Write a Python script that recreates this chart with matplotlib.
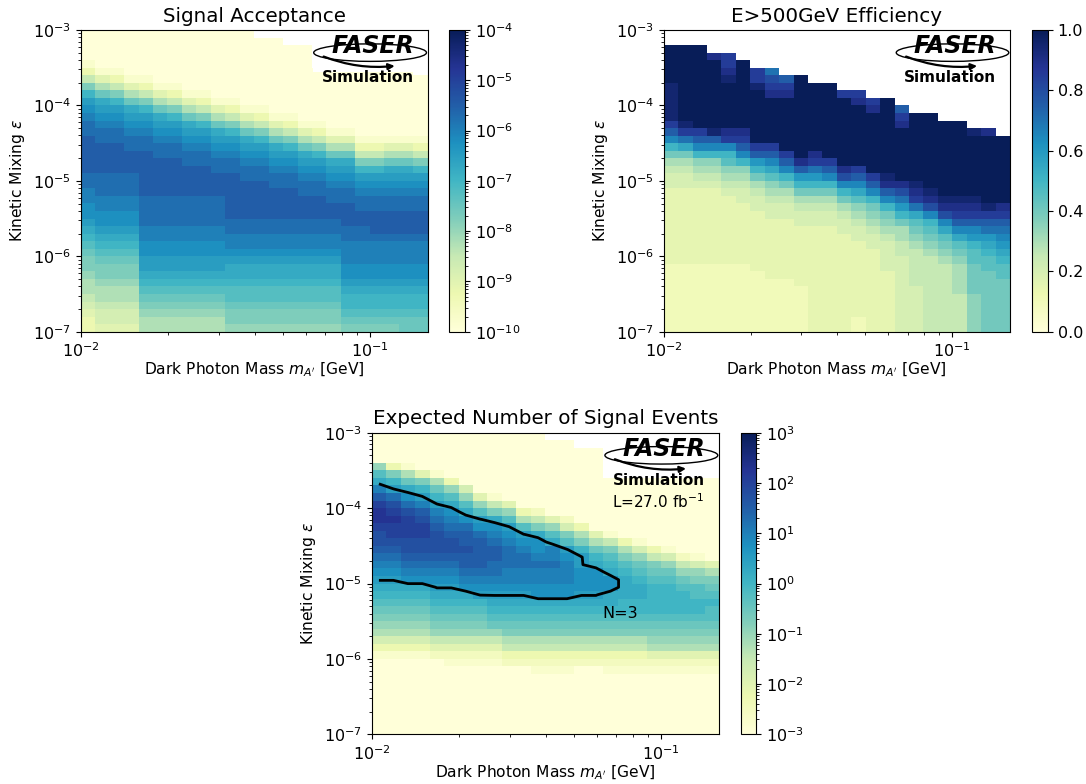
import numpy as np
import matplotlib
matplotlib.use("Agg")
import matplotlib.pyplot as plt
from matplotlib.colors import LogNorm, Normalize
from matplotlib.patches import Rectangle, Ellipse

plt.rcParams["font.family"] = ["DejaVu Sans"]

# ---------------- binning of the scan ----------------
N_MASS_BINS = 24            # log10(m) from -2.0 to -0.8 in 0.05 steps
N_EPS_BINS = 40             # log10(eps) from -7 to -3 in 0.1 steps
mass_edges = np.logspace(-2.0, -0.8, N_MASS_BINS + 1)
eps_edges = np.logspace(-7.0, -3.0, N_EPS_BINS + 1)

# ---------------- data ----------------
# One string per mass column (left -> right); each character is one epsilon
# row from the top (eps = 1e-3) to the bottom (eps = 1e-7).
# Character = base-36 level k, '.' = empty bin.
#   acceptance       = 10**(-10 + 0.25*k)
#   efficiency       = 0.05*k
#   expected events  = 10**(-3 + 0.25*k)
acceptance_cols = [
    "0000" "1369cefghh" "iiiii" "hhggffedcba" "9987765433",
    "00000" "147adefghh" "iiii" "hhhggffedcba998776554",
    "00000" "1369cefghh" "iiii" "hhhggffedcba998776554",
    "000000" "147adefghh" "iii" "hhhggffedcba998776554",
    "000000" "1369cefghh" "iii" "iiihhhhggffeedcba9877",
    "0000000" "147adefghh" "ii" "iiihhhhggffeedcba9877",
    "0000000" "1369cefghh" "ii" "iiihhhhggffeedcba9877",
    "00000000" "147adefghh" "i" "iiihhhhggffeedcba9877",
    "00000000" "1369cefghh" "i" "iiihhhhggffeedcba9877",
    "000000000" "147adefghh" "iiihhhhggffeedcba9877",
    "000000000" "1369cefghh" "iiiiiihhggfeddcbba998",
    "0000000000" "147adefghh" "iiiiihhggfeddcbba998",
    "." "000000000" "1369cefghh" "iiiiihhggfeddcbba998",
    "." "0000000000" "147adefghh" "iiiihhggfeddcbba998",
    ".." "000000000" "1369cefghh" "iiiihhggfeddcbba998",
    ".." "0000000000" "147adefghh" "iiihhggfeddcbba998",
    "....." "0000000" "1369cefghh" "iiihhggfeddcbba998",
    "....." "00000000" "147adefghh" "iihhggfeddcbba998",
    "....." "00000000" "147adefghh" "iii" "hhgggffedccba9",
    "....." "000000000" "1369cefghh" "ii" "hhgggffedccba9",
    "....." "000000000" "1369cefghh" "ii" "ihgggffedccba9",
    "....." "000000000" "147adefghh" "iii" "hgggffedccba9",
    "....." "000000000" "147adefghh" "iii" "hgggffedccbaa",
    "......" "00000000" "1369cefghh" "iii" "hgggffedccbaa",
]

efficiency_cols = [
    ".." "kkkkk" "jjjjj" "hfda8654" "4" "3333333333" "222222222",
    ".." "kkkkkkkkkk" "jheb8654" "4" "3333333333" "222222222",
    ".." "kkkkkkkkkkk" "hfda765" "4" "3333333333" "222222222",
    "..." "ikkkkkkkkkjfda7654" "3333333333" "222222222",
    "..." "hhij" "kkkkkk" "ihda976543" "33333333" "222222" "222",
    "...." "kkkkkkkkk" "ihfda76544" "33333333" "222222" "222",
    "....." "hhj" "kkkkkkk" "hfca86544" "33333333" "22222222",
    "....." "eghi" "kkkkkk" "hfdb976544" "33333333" "2222222",
    "......" "fhi" "kkkkkkk" "hfda86544" "33333333" "2222222",
    "......" "kkkkkkkkkkk" "ifca86544" "33333333" "222222",
    "......." "kkkkkkkkk" "iheca86544" "3333333333" "3333",
    "......." "kkkkkkkkkk" "hfda86544" "3333333333" "3333",
    "........" "h" "kkkkkkkkk" "igda86544" "3333333333" "333",
    "........" "hi" "kkkkkkkk" "hfdb976544" "3333333333" "22",
    "........." "hi" "kkkkkkkk" "hfda876544" "3333333333" "3",
    "........." "kkkkkkkkkk" "jifda87654" "444" "33333333",
    ".........." "fhi" "kkkkkkk" "igeca86655" "4444444444",
    "..........." "kkkkkkkkk" "jiheb98765" "5555" "444444",
    "..........." "kkkkkkkkkk" "jigda9876" "5555555555",
    "............" "kkkkkkkkkk" "jigdb9876" "555555555",
    "............" "kkkkkkkkkk" "jihfdb98" "7" "6666" "55555",
    "............." "j" "kkkkkkkk" "jihfdca" "99" "8888" "77777",
    "............." "i" "kkkkkkkkk" "jhfecba99" "88888888",
    ".............." "kkkkkkkkk" "ihfedcba99" "8888888",
]

events_cols = [
    "0000" "8bdgikllkjjihgfedcba987531" "0000000000",
    "0000" "39cehjklkkjihgfedcba987531" "0000000000",
    "0000" "17adfhjkkkjjihgfdcba987531" "0000000000",
    "0000" "049cegijkkjjihgfdcba987531" "0000000000",
    "0000" "017aceghijjjihgfedcba986420" "000000000",
    "0000" "0038bdfghijjihgfedcba986421" "000000000",
    "0000" "00058bdfhiijiihgfdcba986421" "000000000",
    "0000" "000048befhiiiihgfecba986421" "000000000",
    "0000" "0000169dfghiihhgfedcba86421" "000000000",
    "0000" "00000" "48befghhhggfedcba976320" "00000000",
    "0000" "000000" "37befghhggfedcba976320" "00000000",
    "0000" "000000" "269dffghggffdcba976321" "00000000",
    "." "0000000000" "48bdgghggffdcba976321" "00000000",
    "." "0000000000" "259befgggffdcba976321" "00000000",
    ".." "0000000000" "379ceefffedcba976320" "00000000",
    ".." "00000000000" "47acdfffedcba976320" "00000000",
    "......" "0000000" "169bcdffddcba976321" "00000000",
    "......" "00000000" "379bcdddccba976321" "00000000",
    "......" "00000000" "158abcddccba976321" "00000000",
    "......" "000000000" "369abccccba987421" "00000000",
    "......" "000000000" "158abccccba987421" "00000000",
    "......" "0000000000" "268abcccba987421" "00000000",
    "......" "0000000000" "1589bbccba987421" "00000000",
    "......" "00000000000" "479abcbba987421" "00000000",
]

titles = ["Signal Acceptance", "E>500GeV Efficiency", "Expected Number of Signal Events"]
x_label = r"Dark Photon Mass $m_{A'}$ [GeV]"
y_label = r"Kinetic Mixing $\epsilon$"
lumi_label = r"L=27.0 fb$^{-1}$"
contour_level = 3.0
contour_text = "N=3"


def decode(cols):
    arr = np.full((N_EPS_BINS, N_MASS_BINS), np.nan)
    for i, col in enumerate(cols):
        if len(col) != N_EPS_BINS:
            raise ValueError(f"column {i} has {len(col)} entries")
        for r, ch in enumerate(col):
            if ch != ".":
                arr[N_EPS_BINS - 1 - r, i] = int(ch, 36)
    return arr


acceptance = 10.0 ** (-10 + 0.25 * decode(acceptance_cols))
efficiency = 0.05 * decode(efficiency_cols)
n_events = 10.0 ** (-3 + 0.25 * decode(events_cols))

# ---------------- figure ----------------
W, H = 1086, 784
fig = plt.figure(figsize=(W / 100, H / 100), dpi=100, facecolor="white")


def frac(x0, y0, x1, y1):
    return [x0 / W, 1 - y1 / H, (x1 - x0) / W, (y1 - y0) / H]


ax1 = fig.add_axes(frac(80.7, 30.0, 427.7, 331.7))
cax1 = fig.add_axes(frac(449.3, 30.0, 465.3, 331.7))
ax2 = fig.add_axes(frac(663.7, 30.0, 1010.0, 331.7))
cax2 = fig.add_axes(frac(1032.0, 30.0, 1048.0, 331.7))
ax3 = fig.add_axes(frac(371.7, 432.7, 719.0, 734.3))
cax3 = fig.add_axes(frac(740.7, 432.7, 756.3, 734.3))

TICK_FS = 11.5
LABEL_FS = 11.2
TITLE_FS = 14.3


def add_logo(ax, lumi=None):
    ax.add_patch(Rectangle((0.669, 0.861), 0.331, 0.139, transform=ax.transAxes,
                           facecolor="white", edgecolor="none", zorder=2))
    ax.add_patch(Ellipse((0.834, 0.925), 0.325, 0.058, transform=ax.transAxes,
                         fill=False, edgecolor="black", lw=1.0, zorder=3))
    ax.text(0.842, 0.947, "FASER", transform=ax.transAxes, fontsize=17,
            fontweight="heavy", fontstyle="italic", ha="center", va="center", zorder=4)
    ax.annotate("", xy=(0.905, 0.881), xytext=(0.70, 0.912), xycoords="axes fraction",
                arrowprops=dict(arrowstyle="-|>", color="black", lw=1.6, mutation_scale=9,
                                shrinkA=0, shrinkB=0, connectionstyle="arc3,rad=0.12"),
                zorder=4)
    ax.text(0.827, 0.843, "Simulation", transform=ax.transAxes, fontsize=11,
            fontweight="bold", ha="center", va="center", zorder=4)
    if lumi:
        ax.text(0.824, 0.772, lumi, transform=ax.transAxes, fontsize=11,
                ha="center", va="center", zorder=4)


def setup(ax, cax, mesh, title):
    ax.set_xscale("log")
    ax.set_yscale("log")
    ax.set_xlim(mass_edges[0], mass_edges[-1])
    ax.set_ylim(eps_edges[0], eps_edges[-1])
    ax.set_xlabel(x_label, fontsize=LABEL_FS, labelpad=0.5)
    ax.set_ylabel(y_label, fontsize=LABEL_FS)
    ax.set_title(title, fontsize=TITLE_FS)
    ax.tick_params(labelsize=TICK_FS)
    cb = fig.colorbar(mesh, cax=cax)
    cb.ax.tick_params(labelsize=TICK_FS)
    return cb


cmap = plt.get_cmap("YlGnBu")

m1 = ax1.pcolormesh(mass_edges, eps_edges, np.ma.masked_invalid(acceptance), cmap=cmap,
                    norm=LogNorm(vmin=1e-10, vmax=1e-4), shading="flat")
setup(ax1, cax1, m1, titles[0])
add_logo(ax1)

m2 = ax2.pcolormesh(mass_edges, eps_edges, np.ma.masked_invalid(efficiency), cmap=cmap,
                    norm=Normalize(vmin=0.0, vmax=1.0), shading="flat")
setup(ax2, cax2, m2, titles[1])
add_logo(ax2)

m3 = ax3.pcolormesh(mass_edges, eps_edges, np.ma.masked_invalid(n_events), cmap=cmap,
                    norm=LogNorm(vmin=1e-3, vmax=1e3), shading="flat")
setup(ax3, cax3, m3, titles[2])
mass_centers = np.sqrt(mass_edges[:-1] * mass_edges[1:])
eps_centers = np.sqrt(eps_edges[:-1] * eps_edges[1:])
ax3.contour(mass_centers, eps_centers, np.ma.masked_invalid(np.log10(n_events)),
            levels=[np.log10(contour_level)], colors="black", linewidths=2.0, zorder=3)
ax3.text(0.0723, 4.06e-6, contour_text, fontsize=11.5, ha="center", va="center", zorder=4)
add_logo(ax3, lumi_label)

fig.savefig("out.png", dpi=100, facecolor="white")
